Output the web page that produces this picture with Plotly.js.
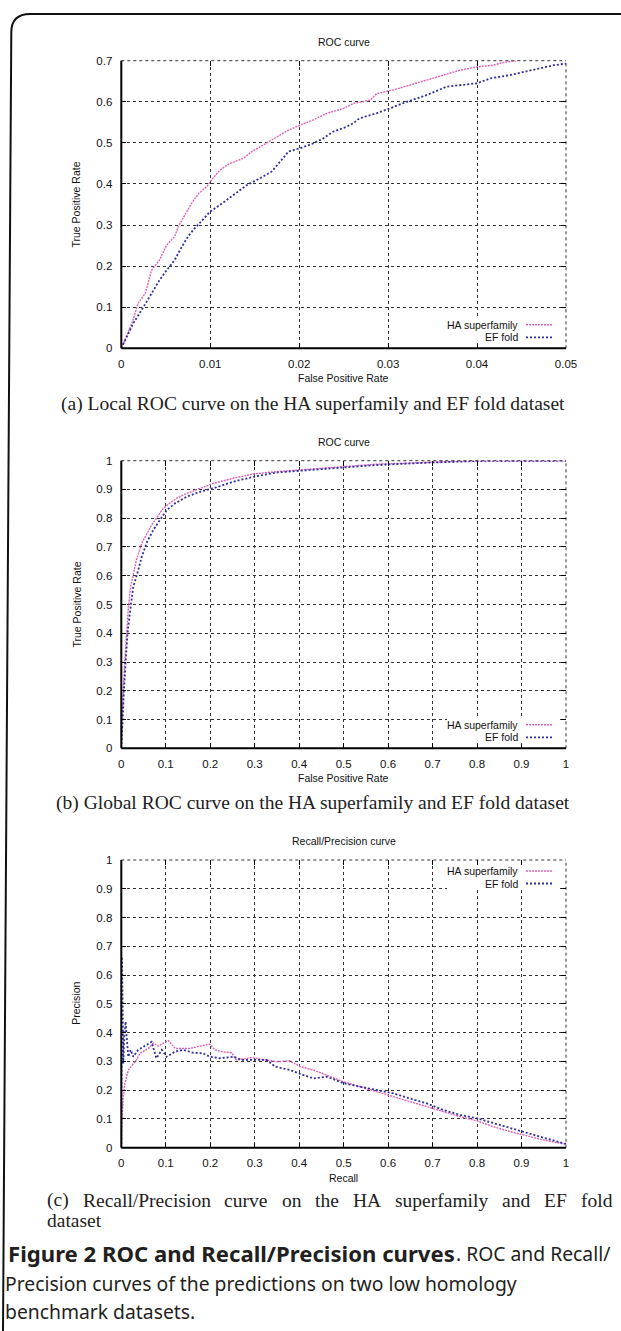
<!DOCTYPE html>
<html><head><meta charset="utf-8">
<script src="https://cdn.plot.ly/plotly-3.0.1.min.js"></script>
<style>html,body{margin:0;padding:0;background:#fff;overflow:hidden}#chart{width:621px;height:1331px}</style>
</head><body><div id="chart"></div>
<script>
// ---------------- data ----------------
const seriesNames = ['HA superfamily', 'EF fold'];

// (a) local ROC (FPR 0..0.05)
const localFprHA = [0, 0.0012, 0.0019, 0.0027, 0.0034, 0.0043, 0.0051, 0.0060, 0.0064, 0.0072, 0.0079, 0.0087, 0.0096, 0.0103, 0.0111, 0.0122, 0.0137, 0.0147, 0.0160, 0.0175, 0.0188, 0.0201, 0.0216, 0.0231, 0.0250, 0.0261, 0.0280, 0.0287, 0.0306, 0.0325, 0.0343, 0.0362, 0.0381, 0.0400, 0.0418, 0.0430, 0.0445];
const localTprHA = [0, 0.061, 0.110, 0.134, 0.190, 0.215, 0.251, 0.272, 0.296, 0.328, 0.353, 0.377, 0.393, 0.414, 0.434, 0.450, 0.462, 0.479, 0.495, 0.515, 0.531, 0.543, 0.556, 0.572, 0.584, 0.596, 0.604, 0.620, 0.629, 0.641, 0.653, 0.665, 0.677, 0.685, 0.689, 0.696, 0.700];
const localFprEF = [0, 0.00135, 0.0025, 0.0034, 0.0043, 0.0051, 0.0060, 0.0068, 0.0075, 0.0081, 0.0088, 0.0100, 0.0111, 0.0126, 0.0141, 0.0156, 0.0169, 0.0180, 0.0188, 0.0201, 0.0216, 0.0227, 0.0238, 0.0253, 0.0261, 0.0268, 0.0287, 0.0302, 0.0321, 0.0343, 0.0366, 0.0400, 0.0415, 0.0437, 0.0463, 0.0486, 0.0500];
const localTprEF = [0, 0.061, 0.101, 0.134, 0.166, 0.190, 0.215, 0.247, 0.272, 0.288, 0.304, 0.333, 0.349, 0.373, 0.397, 0.414, 0.430, 0.458, 0.479, 0.487, 0.499, 0.511, 0.527, 0.539, 0.548, 0.560, 0.572, 0.584, 0.600, 0.616, 0.637, 0.645, 0.657, 0.665, 0.677, 0.689, 0.693];

// (b) global ROC
const globalFprHA = [0, 0.002, 0.0045, 0.008, 0.012, 0.016, 0.021, 0.027, 0.034, 0.046, 0.058, 0.068, 0.079, 0.094, 0.109, 0.124, 0.147, 0.177, 0.207, 0.252, 0.297, 0.349, 0.402, 0.500, 0.574, 0.687, 0.800, 1.0];
const globalTprHA = [0, 0.098, 0.203, 0.307, 0.400, 0.492, 0.562, 0.608, 0.655, 0.713, 0.747, 0.776, 0.800, 0.834, 0.852, 0.869, 0.886, 0.904, 0.921, 0.939, 0.954, 0.962, 0.968, 0.979, 0.988, 0.994, 1.0, 1.0];
const globalFprEF = [0, 0.002, 0.006, 0.010, 0.014, 0.021, 0.027, 0.036, 0.046, 0.058, 0.072, 0.087, 0.102, 0.121, 0.147, 0.177, 0.207, 0.252, 0.297, 0.349, 0.402, 0.500, 0.574, 0.687, 0.800, 1.0];
const globalTprEF = [0, 0.075, 0.203, 0.307, 0.400, 0.492, 0.562, 0.608, 0.666, 0.718, 0.759, 0.794, 0.828, 0.852, 0.875, 0.892, 0.904, 0.927, 0.944, 0.959, 0.965, 0.977, 0.985, 0.993, 0.999, 1.0];

// (c) recall / precision
const recallHA = [0, 0.0015, 0.0045, 0.008, 0.016, 0.027, 0.034, 0.042, 0.049, 0.061, 0.072, 0.083, 0.094, 0.106, 0.121, 0.136, 0.154, 0.177, 0.199, 0.210, 0.229, 0.248, 0.259, 0.293, 0.327, 0.349, 0.379, 0.402, 0.432, 0.462, 0.500, 0.537, 0.574, 0.612, 0.649, 0.687, 0.724, 0.762, 0.800, 0.837, 0.874, 0.912, 0.949, 1.0];
const precisionHA = [0, 0.096, 0.177, 0.224, 0.270, 0.293, 0.305, 0.328, 0.334, 0.345, 0.363, 0.353, 0.363, 0.372, 0.345, 0.345, 0.345, 0.353, 0.360, 0.340, 0.333, 0.330, 0.305, 0.313, 0.305, 0.299, 0.302, 0.282, 0.270, 0.253, 0.229, 0.212, 0.195, 0.177, 0.160, 0.143, 0.125, 0.108, 0.093, 0.073, 0.056, 0.041, 0.027, 0.012];
const recallEF = [0, 0.00075, 0.0015, 0.003, 0.0045, 0.0067, 0.0097, 0.012, 0.0157, 0.021, 0.027, 0.038, 0.049, 0.061, 0.068, 0.079, 0.091, 0.102, 0.121, 0.139, 0.162, 0.184, 0.199, 0.222, 0.252, 0.271, 0.293, 0.327, 0.346, 0.379, 0.409, 0.432, 0.462, 0.500, 0.537, 0.574, 0.612, 0.649, 0.687, 0.724, 0.762, 0.800, 0.837, 0.874, 0.912, 0.949, 1.0];
const precisionEF = [0, 0.258, 0.664, 0.502, 0.293, 0.386, 0.438, 0.386, 0.316, 0.340, 0.316, 0.340, 0.351, 0.363, 0.368, 0.311, 0.340, 0.316, 0.334, 0.340, 0.330, 0.328, 0.316, 0.311, 0.316, 0.305, 0.305, 0.305, 0.282, 0.270, 0.253, 0.241, 0.247, 0.224, 0.212, 0.200, 0.189, 0.171, 0.154, 0.131, 0.114, 0.102, 0.085, 0.070, 0.050, 0.035, 0.013];

// ticks
const localXTicks = [0, 0.01, 0.02, 0.03, 0.04, 0.05];
const localXLabels = ['0', '0.01', '0.02', '0.03', '0.04', '0.05'];
const localYTicks = [0, 0.1, 0.2, 0.3, 0.4, 0.5, 0.6, 0.7];
const localYLabels = ['0', '0.1', '0.2', '0.3', '0.4', '0.5', '0.6', '0.7'];
const unitTicks = [0, 0.1, 0.2, 0.3, 0.4, 0.5, 0.6, 0.7, 0.8, 0.9, 1];
const unitLabels = ['0', '0.1', '0.2', '0.3', '0.4', '0.5', '0.6', '0.7', '0.8', '0.9', '1'];

// texts
const panelTitles = ['ROC curve', 'ROC curve', 'Recall/Precision curve'];
const xTitles = ['False Positive Rate', 'False Positive Rate', 'Recall'];
const yTitles = ['True Positive Rate', 'True Positive Rate', 'Precision'];
const captionA = '(a) Local ROC curve on the HA superfamily and EF fold dataset';
const captionB = '(b) Global ROC curve on the HA superfamily and EF fold dataset';
const captionC = ['(c) Recall/Precision curve on the HA superfamily and EF fold', 'dataset'];
const figBold = 'Figure 2 ROC and Recall/Precision curves';
const figLines = ['. ROC and Recall/', 'Precision curves of the predictions on two low homology', 'benchmark datasets.'];

// ---------------- layout helpers ----------------
const W = 621, H = 1331;
const fx = p => p / W, fy = p => 1 - p / H;
const plotL = 121.3, plotR = 566;
const panels = [
  {top: 60.7, bottom: 348.3, legendTop: false},
  {top: 460.7, bottom: 748.3, legendTop: false},
  {top: 860, bottom: 1147.7, legendTop: true}
];
const axisFont = '"Liberation Sans", Arial, sans-serif';
const styles = [
  {color: '#dc62b6', width: 1.4, dash: '2px,1px'},
  {color: '#2e2ea0', width: 1.8, dash: '2px,2px'}
];

const cv = document.createElement('canvas').getContext('2d');
function measure(text, font) { cv.font = font; return cv.measureText(text).width; }

function makeAxis(domain, range, vals, labels, anchor, isY) {
  return {
    domain: domain, range: range, anchor: anchor,
    tickmode: 'array', tickvals: vals, ticktext: labels,
    showgrid: true, gridcolor: '#333', griddash: 'dot', gridwidth: 1,
    showline: false, zeroline: false,
    ticks: 'inside', ticklen: 5, tickwidth: 1, tickcolor: '#000', mirror: 'ticks',
    fixedrange: true, automargin: false,
    ticklabelstandoff: isY ? 8 : 7,
    tickfont: {family: axisFont, size: 11.5, color: '#111'}
  };
}

const xDom = [fx(plotL), fx(plotR)];
const layout = {
  width: W, height: H, autosize: false,
  margin: {l: 0, r: 0, t: 0, b: 0, pad: 0},
  paper_bgcolor: '#fff', plot_bgcolor: '#fff',
  showlegend: false,
  annotations: [], shapes: []
};

const ranges = [
  {x: [0, 0.05], y: [0, 0.7], xt: localXTicks, xl: localXLabels, yt: localYTicks, yl: localYLabels},
  {x: [0, 1], y: [0, 1], xt: unitTicks, xl: unitLabels, yt: unitTicks, yl: unitLabels},
  {x: [0, 1], y: [0, 1], xt: unitTicks, xl: unitLabels, yt: unitTicks, yl: unitLabels}
];

const seriesData = [
  [[localFprHA, localTprHA], [localFprEF, localTprEF]],
  [[globalFprHA, globalTprHA], [globalFprEF, globalTprEF]],
  [[recallHA, precisionHA], [recallEF, precisionEF]]
];

const titleFont = {family: axisFont, size: 10.5, color: '#111'};
const traces = [];
panels.forEach((p, i) => {
  const sfx = i === 0 ? '' : String(i + 1);
  const yDom = [fy(p.bottom), fy(p.top)];
  const r = ranges[i];
  layout['xaxis' + sfx] = makeAxis(xDom, r.x, r.xt, r.xl, 'y' + sfx, false);
  layout['yaxis' + sfx] = makeAxis(yDom, r.y, r.yt, r.yl, 'x' + sfx, true);

  seriesData[i].forEach((s, k) => {
    traces.push({
      type: 'scatter', mode: 'lines', x: s[0], y: s[1], name: seriesNames[k],
      xaxis: 'x' + sfx, yaxis: 'y' + sfx, hoverinfo: 'skip',
      line: {color: styles[k].color, width: styles[k].width, dash: styles[k].dash}
    });
  });

  const xr = 'x' + sfx + ' domain', yr = 'y' + sfx + ' domain';
  // solid axes (left & bottom), dotted border (top & right)
  layout.shapes.push({type: 'line', xref: xr, yref: yr, x0: 0, x1: 0, y0: 0, y1: 1, line: {color: '#000', width: 2}, layer: 'above'});
  layout.shapes.push({type: 'line', xref: xr, yref: yr, x0: 0, x1: 1, y0: 0, y1: 0, line: {color: '#000', width: 2}, layer: 'above'});
  layout.shapes.push({type: 'line', xref: xr, yref: yr, x0: 1, x1: 1, y0: 0, y1: 1, line: {color: '#333', width: 1, dash: 'dot'}, layer: 'below'});
  layout.shapes.push({type: 'line', xref: xr, yref: yr, x0: 0, x1: 1, y0: 1, y1: 1, line: {color: '#333', width: 1, dash: 'dot'}, layer: 'below'});

  // panel title and axis titles
  layout.annotations.push({xref: 'paper', yref: 'paper', x: fx((plotL + plotR) / 2), y: fy(p.top - 19), text: panelTitles[i],
    showarrow: false, xanchor: 'center', yanchor: 'middle', font: titleFont});
  layout.annotations.push({xref: 'paper', yref: 'paper', x: fx((plotL + plotR) / 2), y: fy(p.bottom + 30), text: xTitles[i],
    showarrow: false, xanchor: 'center', yanchor: 'middle', font: titleFont});
  layout.annotations.push({xref: 'paper', yref: 'paper', x: fx(76), y: fy((p.top + p.bottom) / 2), text: yTitles[i], textangle: -90,
    showarrow: false, xanchor: 'center', yanchor: 'middle', font: titleFont});

  // legend (text on the left, line sample on the right)
  const ly = p.legendTop ? [p.top + 11, p.top + 23.5] : [p.bottom - 23.5, p.bottom - 11];
  layout.shapes.push({type: 'rect', xref: 'paper', yref: 'paper', x0: fx(447), x1: fx(560), y0: fy(ly[1] + 6), y1: fy(ly[0] - 6),
    fillcolor: '#fff', line: {width: 0}, layer: 'above'});
  seriesNames.forEach((nm, k) => {
    layout.annotations.push({xref: 'paper', yref: 'paper', x: fx(520), y: fy(ly[k]), text: nm, showarrow: false,
      xanchor: 'right', yanchor: 'middle', font: titleFont});
    layout.shapes.push({type: 'line', xref: 'paper', yref: 'paper', x0: fx(526), x1: fx(553), y0: fy(ly[k]), y1: fy(ly[k]),
      line: {color: styles[k].color, width: styles[k].width, dash: styles[k].dash}, layer: 'above'});
  });
});

// ---------------- captions ----------------
const serif = '"Liberation Serif", "Times New Roman", serif';
const serifFam = "'Liberation Serif'";
const capSize = 16 * 505 / measure(captionA, "16px " + serifFam);
[[captionA, 404], [captionB, 803]].forEach(c => {
  layout.annotations.push({xref: 'paper', yref: 'paper', x: fx(312.5), y: fy(c[1]), text: c[0], showarrow: false,
    xanchor: 'center', yanchor: 'middle', font: {family: serif, size: capSize, color: '#222'}});
});
// justified first line of (c)
(function () {
  const words = captionC[0].split(' ');
  const f = capSize + "px " + serifFam;
  const widths = words.map(w => measure(w, f));
  const total = widths.reduce((a, b) => a + b, 0);
  const left = 46, right = 611;
  const gap = (right - left - total) / (words.length - 1);
  let x = left;
  words.forEach((w, k) => {
    layout.annotations.push({xref: 'paper', yref: 'paper', x: fx(x), y: fy(1200), text: w, showarrow: false,
      xanchor: 'left', yanchor: 'middle', borderpad: 0, font: {family: serif, size: capSize, color: '#222'}});
    x += widths[k] + gap;
  });
  layout.annotations.push({xref: 'paper', yref: 'paper', x: fx(left), y: fy(1220), text: captionC[1], showarrow: false,
    xanchor: 'left', yanchor: 'middle', borderpad: 0, font: {family: serif, size: capSize, color: '#222'}});
})();

// figure caption: bold lead-in, then regular text
const sansFam = "'Noto Sans'";
const sans = '"Noto Sans", "Open Sans", sans-serif';
const regSize = 20 * 512 / measure(figLines[1], "20px " + sansFam);
const boldSize = 20 * 447 / measure(figBold, "bold 20px " + sansFam);
const boldW = measure(figBold, "bold " + boldSize + "px " + sansFam);
const capColor = '#231f20';
layout.annotations.push({xref: 'paper', yref: 'paper', x: fx(7), y: fy(1253), text: '<b>' + figBold + '</b>',
  showarrow: false, xanchor: 'left', yanchor: 'middle', borderpad: 0, font: {family: sans, size: boldSize, color: capColor}});
layout.annotations.push({xref: 'paper', yref: 'paper', x: fx(7 + boldW + 1), y: fy(1253.5), text: figLines[0],
  showarrow: false, xanchor: 'left', yanchor: 'middle', borderpad: 0, font: {family: sans, size: regSize, color: capColor}});
layout.annotations.push({xref: 'paper', yref: 'paper', x: fx(4), y: fy(1283), text: figLines[1],
  showarrow: false, xanchor: 'left', yanchor: 'middle', borderpad: 0, font: {family: sans, size: regSize, color: capColor}});
layout.annotations.push({xref: 'paper', yref: 'paper', x: fx(4), y: fy(1311), text: figLines[2],
  showarrow: false, xanchor: 'left', yanchor: 'middle', borderpad: 0, font: {family: sans, size: regSize, color: capColor}});

// page frame (rounded top-left corner)
layout.shapes.push({type: 'path', xref: 'paper', yref: 'paper', layer: 'above',
  path: 'M ' + fx(3) + ',' + fy(1331) + ' L ' + fx(11.3) + ',' + fy(32) + ' Q ' + fx(11.6) + ',' + fy(14) + ' ' + fx(30) + ',' + fy(14) + ' L ' + fx(621) + ',' + fy(14),
  line: {color: '#111', width: 2}});

Plotly.newPlot('chart', traces, layout, {staticPlot: true, displayModeBar: false});
</script></body></html>
